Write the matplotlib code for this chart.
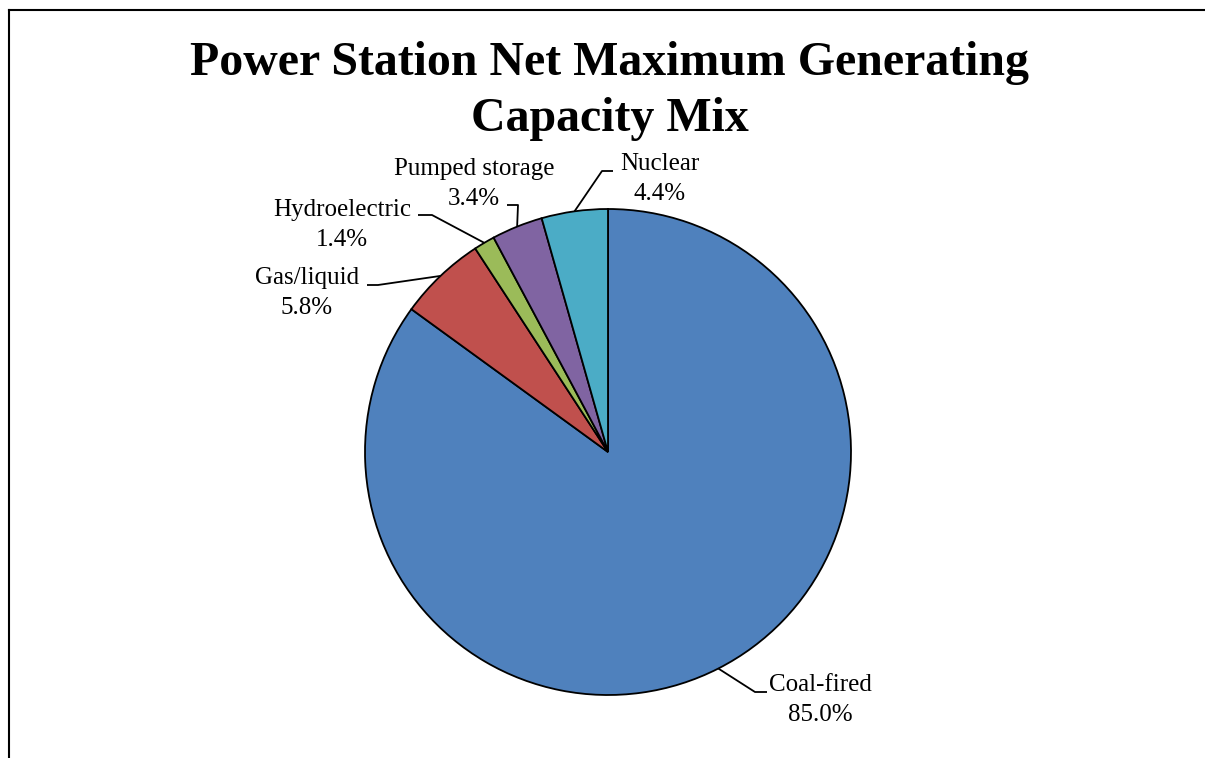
import numpy as np
import matplotlib
matplotlib.use("Agg")
import matplotlib.pyplot as plt
from matplotlib.lines import Line2D

# Capacity mix data
categories = ["Coal-fired", "Gas/liquid", "Hydroelectric", "Pumped storage", "Nuclear"]
shares = [85.0, 5.8, 1.4, 3.4, 4.4]
colors = ["#4F81BD", "#C0504D", "#9BBB59", "#8064A2", "#4BACC6"]

W, H = 1205, 758
fig = plt.figure(figsize=(W / 100, H / 100), dpi=100)
ax = fig.add_axes([0, 0, 1, 1])

serif = ["Liberation Serif", "DejaVu Serif"]

cx, cy, r = 608, H - 452, 243
wedges, _ = ax.pie(shares, colors=colors, startangle=90, counterclock=False,
                   center=(cx, cy), radius=r, frame=True,
                   wedgeprops=dict(edgecolor="black", linewidth=1.3))
ax.set_xlim(0, W)
ax.set_ylim(0, H)
ax.set_aspect("equal")
ax.axis("off")

# label block centres (top-down pixel coordinates) and leader-line elbows
label_pos = {
    "Coal-fired": (820, 700),
    "Gas/liquid": (307, 293),
    "Hydroelectric": (342, 225),
    "Pumped storage": (474, 184),
    "Nuclear": (660, 179),
}
elbows = {
    "Coal-fired": [(755, 692), (767, 692)],
    "Gas/liquid": [(378, 285), (367, 285)],
    "Hydroelectric": [(432, 215), (418, 215)],
    "Pumped storage": [(518, 205), (507, 205)],
    "Nuclear": [(602, 171), (613, 171)],
}

for w, name, val in zip(wedges, categories, shares):
    mid = np.deg2rad((w.theta1 + w.theta2) / 2)
    x0 = cx + r * np.cos(mid)
    y0 = cy + r * np.sin(mid)
    pts = [(x0, y0)] + [(x, H - y) for x, y in elbows[name]]
    xs, ys = zip(*pts)
    ax.plot(xs, ys, color="black", linewidth=1.3, solid_capstyle="butt")
    lx, ly = label_pos[name]
    ax.text(lx, H - ly, f"{name}\n{val:.1f}%", ha="center", va="center",
            multialignment="center", fontsize=18, family=serif, linespacing=1.45)

fig.text(610 / W, 1 - 91 / H, "Power Station Net Maximum Generating\nCapacity Mix",
         ha="center", va="center", multialignment="center", fontsize=34.5,
         fontweight="bold", family=serif, linespacing=1.33)

# chart area border (top and left edges visible)
fig.add_artist(Line2D([9 / W, 9 / W], [0, 1 - 10 / H], transform=fig.transFigure,
                      color="black", linewidth=1.5))
fig.add_artist(Line2D([9 / W, 1], [1 - 10 / H, 1 - 10 / H], transform=fig.transFigure,
                      color="black", linewidth=1.5))

fig.savefig("out.png", dpi=100, facecolor="white")
